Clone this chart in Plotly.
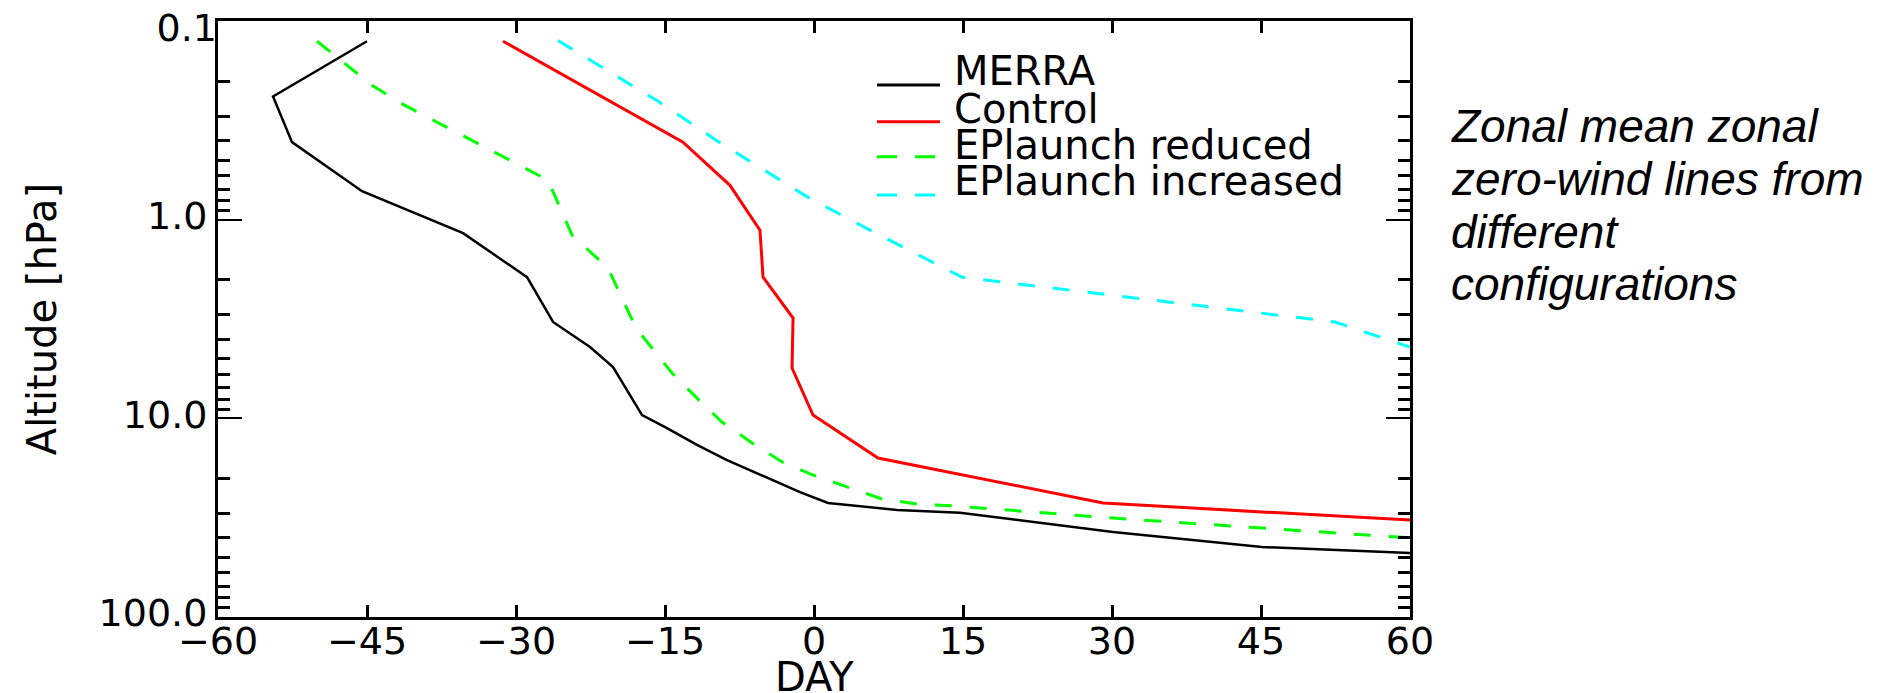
import plotly.graph_objects as go

# ---------------- data ----------------
merra_day = [-45.0, -54.46, -52.55, -45.5, -35.33, -28.89, -26.27, -22.55, -20.23, -17.31,
             -14.80, -11.78, -8.76, -5.74, -1.41, 1.41, 8.36, 14.70, 30.1, 45.1, 60.0]
merra_p = [0.126, 0.239, 0.406, 0.718, 1.167, 1.945, 3.27, 4.37, 5.52, 9.62,
           11.19, 13.61, 16.22, 18.84, 23.50, 26.67, 28.91, 29.92, 37.33, 44.46, 47.64]

control_day = [-31.31, -13.19, -8.46, -5.44, -5.13, -2.11, -2.21, -0.10, 6.44, 29.10, 45.1, 60.0]
control_p = [0.126, 0.406, 0.670, 1.127, 1.945, 3.126, 5.58, 9.62, 15.85, 26.67, 29.58, 32.5]

reduced_day = [-50.03, -44.50, -41.38, -26.78, -24.36, -20.74, -17.92, -14.29, -11.78, -9.26,
               -6.24, -3.22, -0.10, 3.42, 6.85, 10.37, 14.0, 30.1, 45.1, 60.0]
reduced_p = [0.126, 0.210, 0.262, 0.631, 1.194, 1.750, 3.51, 5.91, 7.91, 10.43,
             13.30, 16.58, 19.29, 22.17, 25.49, 27.0, 27.6, 31.8, 35.6, 40.0]

increased_day = [-25.77, -15.70, -9.86, -0.80, 5.64, 14.90, 52.45, 60.0]
increased_p = [0.125, 0.253, 0.397, 0.760, 1.127, 1.945, 3.27, 4.38]

series_names = ["MERRA", "Control", "EPlaunch reduced", "EPlaunch increased"]
x_ticks = [-60, -45, -30, -15, 0, 15, 30, 45, 60]
y_ticks = [0.1, 1, 10, 100]
y_ticktext = ["0.1", "1.0", "10.0", "100.0"]
y_minor = [0.2, 0.3, 0.4, 0.5, 0.6, 0.7, 0.8, 0.9,
           2, 3, 4, 5, 6, 7, 8, 9,
           20, 30, 40, 50, 60, 70, 80, 90]
side_text = ["Zonal mean zonal", "zero-wind lines from", "different", "configurations"]

# ---------------- figure ----------------
W, H = 1897, 693
L, R, T, B = 218, 487, 21, 76
PW, PH = W - L - R, H - T - B


def px2paper_x(px):
    return (px - L) / PW


def px2paper_y(py):
    return (H - B - py) / PH


FONT = "DejaVu Sans"
TICKFONT = dict(family=FONT, size=38, color="#000000")
Y_RANGE = [2.0005, -1.0015]
styles = [
    dict(color="#000000", width=2.5, dash="solid"),
    dict(color="#ff0000", width=3, dash="solid"),
    dict(color="#00ff00", width=3, dash="17px,18px"),
    dict(color="#00ffff", width=3, dash="17px,18px"),
]
datasets = [(merra_day, merra_p), (control_day, control_p),
            (reduced_day, reduced_p), (increased_day, increased_p)]

fig = go.Figure()
for name, (xs, ys), st in zip(series_names, datasets, styles):
    fig.add_trace(go.Scatter(x=xs, y=ys, mode="lines", name=name, line=st,
                             showlegend=False, hoverinfo="skip"))
# empty helper trace so the overlay axis (top label placement) is drawn
fig.add_trace(go.Scatter(x=[None], y=[None], yaxis="y2", mode="lines",
                         showlegend=False, hoverinfo="skip"))

annotations = []
shapes = []
# manual legend (tight line spacing as in reference)
leg_line_y = [85, 121.7, 156.7, 195]
leg_text_c = [71.5, 108.5, 144.5, 181.5]
for name, st, ly, ty in zip(series_names, styles, leg_line_y, leg_text_c):
    shapes.append(dict(type="line", xref="paper", yref="paper",
                       x0=px2paper_x(877), x1=px2paper_x(940),
                       y0=px2paper_y(ly), y1=px2paper_y(ly),
                       line=dict(color=st["color"], width=3,
                                 dash="20px,18px" if st["dash"] != "solid" else "solid")))
    annotations.append(dict(text=name, xref="paper", yref="paper",
                            x=px2paper_x(952), y=px2paper_y(ty),
                            xanchor="left", yanchor="middle", showarrow=False,
                            font=dict(family=FONT, size=40, color="#000000")))

# side description
for line, c in zip(side_text, [126.1, 179.1, 232.1, 284.1]):
    annotations.append(dict(text=line, xref="paper", yref="paper",
                            x=px2paper_x(1449), y=px2paper_y(c),
                            xanchor="left", yanchor="middle", showarrow=False,
                            font=dict(family="Liberation Sans", size=46, color="#000000",
                                      style="italic")))

# x axis title
annotations.append(dict(text="DAY", xref="x", yref="paper", x=0, y=px2paper_y(652),
                        xanchor="center", yanchor="top", showarrow=False,
                        font=dict(family=FONT, size=40, color="#000000")))

main_ticktext = [""] + y_ticktext[1:]

fig.update_layout(
    width=W, height=H,
    margin=dict(l=L, r=R, t=T, b=B, autoexpand=False),
    paper_bgcolor="white", plot_bgcolor="white",
    showlegend=False,
    annotations=annotations,
    shapes=shapes,
    xaxis=dict(range=[-60, 60], tickmode="array", tickvals=x_ticks,
               ticks="inside", ticklen=12, tickwidth=3, tickcolor="black",
               ticklabelstandoff=-12, ticklabeloverflow="allow",
               showline=True, linewidth=3, linecolor="black", mirror="ticks",
               showgrid=False, zeroline=False, automargin=False,
               tickfont=TICKFONT),
    yaxis=dict(type="log", range=Y_RANGE, tickmode="array", tickvals=y_ticks,
               ticktext=main_ticktext, ticklabeloverflow="allow", ticklabelshift=4,
               ticks="inside", ticklen=24, tickwidth=2, tickcolor="black",
               minor=dict(tickmode="array", tickvals=y_minor, ticks="inside",
                          ticklen=12, tickwidth=3, tickcolor="black"),
               showline=True, linewidth=3, linecolor="black", mirror="ticks",
               showgrid=False, zeroline=False, automargin=False,
               title=dict(text="Altitude [hPa]", standoff=30,
                          font=dict(family=FONT, size=40, color="#000000")),
               tickfont=TICKFONT),
    # overlay axis carrying only the top "0.1" label, nudged down like the reference
    yaxis2=dict(type="log", range=Y_RANGE, overlaying="y", anchor="x", side="left",
                tickmode="array", tickvals=y_ticks[:1], ticktext=y_ticktext[:1],
                ticks="", showline=False, showgrid=False, zeroline=False,
                ticklabeloverflow="allow", ticklabelshift=-6, automargin=False,
                tickfont=TICKFONT),
)

fig.write_html("out.html")
